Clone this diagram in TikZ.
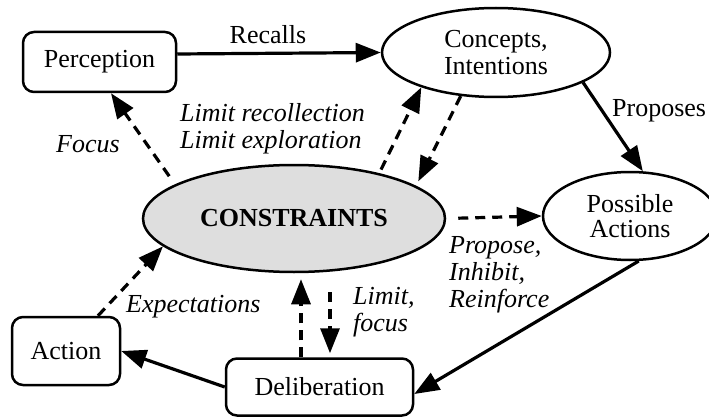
\documentclass[tikz,border=0pt]{standalone}
\usepackage{fontspec}
\setmainfont{Liberation Serif}
\usetikzlibrary{arrows.meta,shapes.geometric}

\tikzset{
  every node/.style={font=\fontsize{26}{27}\selectfont},
  box/.style={draw, line width=2.5pt, rounded corners=11pt, inner sep=0pt},
  oval/.style={draw, ellipse, line width=2.5pt, inner sep=0pt, align=center},
  lbl/.style={inner sep=0pt, font=\fontsize{26}{27}\selectfont\itshape},
  plain/.style={inner sep=0pt},
  flow/.style={line width=3.2pt, -{Triangle[length=25pt,width=19pt]}},
  hint/.style={line width=3.2pt, dash pattern=on 10pt off 7pt, -{Triangle[length=25pt,width=19pt]}}
}

\begin{document}
\begin{tikzpicture}[x=1pt,y=-1pt]
  \useasboundingbox (0,0) rectangle (709,417);

  % main nodes
  \node[box, minimum width=153pt, minimum height=60pt] (perc) at (99.5,62) {Perception};
  \node[oval, minimum width=228pt, minimum height=89pt] (conc) at (496,52.5) {Concepts,\\Intentions};
  \node[oval, minimum width=174pt, minimum height=88pt,
        font=\fontsize{26}{25}\selectfont] (pa) at (630,216) {Possible\\Actions};
  \node[oval, fill=black!13, minimum width=302pt, minimum height=107pt,
        font=\fontsize{26}{27}\selectfont\bfseries] (cons) at (294,218.5) {CONSTRAINTS};
  \node[box, minimum width=108pt, minimum height=68pt] (act) at (66,351) {Action};
  \node[box, minimum width=187pt, minimum height=57pt] (delib) at (319.5,387) {Deliberation};

  % solid flow
  \draw[flow] ([yshift=8pt]perc.east) -- (conc.west);
  \draw[flow] (conc.-19) -- (pa.74);
  \draw[flow] (pa.-79) -- ([yshift=-7pt]delib.east);
  \draw[flow] (delib.west) -- (act.east);

  % constraint influences
  \draw[hint, shorten <=10pt] (cons.164.5) -- ([xshift=11.5pt]perc.south);
  \draw[hint, shorten <=4pt] (cons.28) -- (conc.205.6);
  \draw[hint, shorten >=5pt] (conc.231.3) -- (cons.15.9);
  \draw[hint, shorten <=12pt] (cons.east) -- (pa.west);
  \draw[hint, shorten >=6pt] ([xshift=-18.5pt]delib.north) -- ([xshift=-18.5pt]delib.north |- cons.south);
  \draw[hint, shorten <=19pt, shorten >=4pt] ([xshift=10.5pt]delib.north |- cons.south) -- ([xshift=10.5pt]delib.north);
  \draw[hint] ([xshift=32pt]act.north) -- (cons.192);

  % labels
  \node[plain, anchor=base] (lrec) at (268,44) {Recalls};
  \node[lbl, anchor=base] (lfoc) at (88,153) {Focus};
  \node[lbl, anchor=west, align=left] (llim) at (180,129) {Limit recollection\\Limit exploration};
  \node[plain, anchor=base west] (lpro) at (612,117) {Proposes};
  \node[lbl, anchor=west, align=left] (lpir) at (449,275) {Propose,\\Inhibit,\\Reinforce};
  \node[lbl, anchor=west, align=left] (llf) at (353,312) {Limit,\\focus};
  \node[lbl, anchor=base west] (lexp) at (126,312) {Expectations};
\end{tikzpicture}
\end{document}
